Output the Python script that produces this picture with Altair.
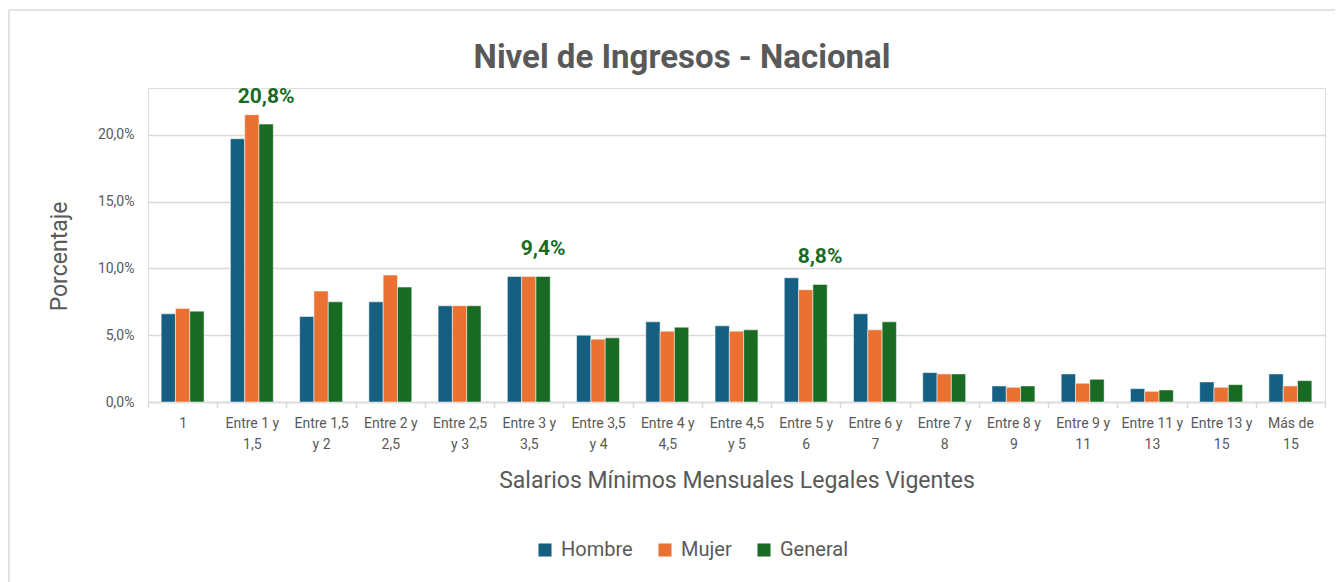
import altair as alt
import pandas as pd

categories = ["1", "Entre 1 y\n1,5", "Entre 1,5\ny 2", "Entre 2 y\n2,5", "Entre 2,5\ny 3",
              "Entre 3 y\n3,5", "Entre 3,5\ny 4", "Entre 4 y\n4,5", "Entre 4,5\ny 5",
              "Entre 5 y\n6", "Entre 6 y\n7", "Entre 7 y\n8", "Entre 8 y\n9",
              "Entre 9 y\n11", "Entre 11 y\n13", "Entre 13 y\n15", "Más de\n15"]
series = ["Hombre", "Mujer", "General"]
colors = ["#156082", "#E97132", "#196B24"]

hombre = [6.6, 19.7, 6.4, 7.5, 7.2, 9.4, 5.0, 6.0, 5.7, 9.3, 6.6, 2.2, 1.2, 2.1, 1.0, 1.5, 2.1]
mujer = [7.0, 21.5, 8.3, 9.5, 7.2, 9.4, 4.7, 5.3, 5.3, 8.4, 5.4, 2.1, 1.1, 1.4, 0.8, 1.1, 1.2]
general = [6.8, 20.8, 7.5, 8.6, 7.2, 9.4, 4.8, 5.6, 5.4, 8.8, 6.0, 2.1, 1.2, 1.7, 0.9, 1.3, 1.6]
annotated = ["Entre 1 y\n1,5", "Entre 3 y\n3,5", "Entre 5 y\n6"]
title_text = "Nivel de Ingresos - Nacional"

rows = []
for s, vals in zip(series, [hombre, mujer, general]):
    for c, v in zip(categories, vals):
        rows.append({"cat": c, "serie": s, "valor": v / 100})
df = pd.DataFrame(rows)

ann = pd.DataFrame([
    {"cat": c, "serie": "General", "valor": general[categories.index(c)] / 100,
     "texto": f"{general[categories.index(c)]:.1f}%".replace(".", ",")}
    for c in annotated
])

FONT = "Roboto"
GRAY = "#595959"

x_enc = alt.X("cat:N", sort=categories, scale=alt.Scale(paddingInner=0, paddingOuter=0),
              axis=alt.Axis(title="Salarios Mínimos Mensuales Legales Vigentes", labelAngle=0,
                            labelExpr="split(datum.label, '\\n')", tickBand="extent",
                            ticks=True, tickSize=6, tickColor="#d9d9d9", tickWidth=1.5,
                            domainColor="#d9d9d9", domainWidth=1.5, labelPadding=8,
                            labelFontSize=14, labelColor=GRAY, labelFont=FONT, labelLineHeight=21,
                            titleFontSize=23, titleFontWeight="normal", titleColor=GRAY,
                            titleFont=FONT, titlePadding=18, grid=False))
xo_enc = alt.XOffset("serie:N", sort=series, scale=alt.Scale(paddingOuter=0.92, paddingInner=0))

bars = alt.Chart(df).mark_bar(stroke="white", strokeWidth=0.5).encode(
    x=x_enc,
    xOffset=xo_enc,
    y=alt.Y("valor:Q", scale=alt.Scale(domain=[0, 0.235], nice=False),
            axis=alt.Axis(title="Porcentaje", values=[0, 0.05, 0.10, 0.15, 0.20],
                          labelExpr="replace(format(datum.value, '.1%'), '.', ',')",
                          ticks=False, domain=False, gridColor="#d9d9d9", gridWidth=1.5,
                          labelFontSize=14, labelColor=GRAY, labelFont=FONT, labelPadding=14,
                          titleFontSize=23, titleFontWeight="normal", titleColor=GRAY,
                          titleFont=FONT, titleX=-89, titleY=168, titleAlign="center",
                          titleBaseline="middle", titleAngle=270)),
    color=alt.Color("serie:N", sort=series, scale=alt.Scale(domain=series, range=colors),
                    legend=alt.Legend(title=None, orient="none", direction="horizontal",
                                      legendX=387, legendY=452, symbolType="square",
                                      symbolSize=170, symbolStrokeWidth=0, labelFontSize=20,
                                      labelColor=GRAY, labelFont=FONT, columnPadding=22,
                                      labelOffset=6)),
)

labels = alt.Chart(ann).mark_text(fontSize=21, fontWeight="bold", color="#196B24",
                                  font=FONT, dy=-27, baseline="middle").encode(
    x=alt.X("cat:N", sort=categories),
    xOffset=alt.XOffset("serie:N", sort=series),
    y="valor:Q",
    text="texto:N",
)

one = pd.DataFrame({"k": [0]})
frame_top = alt.Chart(one).mark_rule(color="#d9d9d9", strokeWidth=1.5).encode(
    x=alt.value(-139), x2=alt.value(1190), y=alt.value(-78)
)
frame_left = alt.Chart(one).mark_rule(color="#d9d9d9", strokeWidth=1.5).encode(
    x=alt.value(-139), y=alt.value(-78), y2=alt.value(500)
)

title = alt.Chart(pd.DataFrame({"t": [title_text]})).mark_text(
    fontSize=33, fontWeight="bold", color=GRAY, font=FONT, align="center", baseline="alphabetic"
).encode(x=alt.value(534), y=alt.value(-20), text="t:N")

chart = alt.layer(frame_top, frame_left, title, bars, labels).properties(
    width=1177, height=314,
    padding={"left": 140, "top": 80, "right": 10, "bottom": 180},
    autosize=alt.AutoSizeParams(type="none"),
).configure_view(stroke=None).configure(background="white")

chart.save("out.html", embed_options={"renderer": "svg", "actions": False})
